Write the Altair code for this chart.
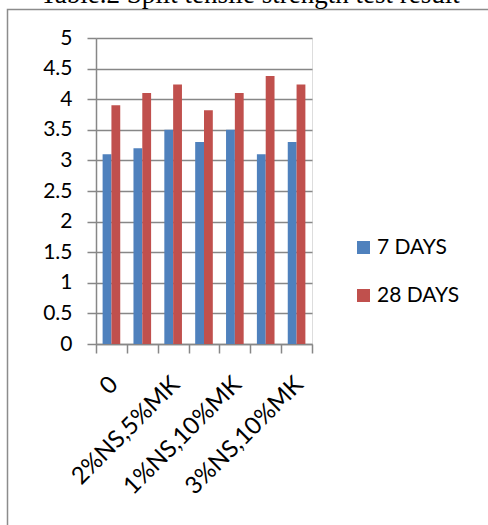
import json

import altair as alt
import pandas as pd

# Mix designs (nano-silica / metakaolin replacement levels)
mixes = [
    "0",
    "1%NS,5%MK",
    "2%NS,5%MK",
    "3%NS,5%MK",
    "1%NS,10%MK",
    "2%NS,10%MK",
    "3%NS,10%MK",
]
ages = ["7 DAYS", "28 DAYS"]
strength_7 = [3.1, 3.2, 3.5, 3.3, 3.5, 3.1, 3.3]
strength_28 = [3.9, 4.1, 4.24, 3.82, 4.1, 4.38, 4.24]
y_ticks = [0, 0.5, 1, 1.5, 2, 2.5, 3, 3.5, 4, 4.5, 5]

title_text = "Table.2  Split tensile strength test result"
colors = ["#4F81BD", "#C0504D"]
grey = "#878787"
label_font = "Lato"

rows = []
for mix, a, b in zip(mixes, strength_7, strength_28):
    rows.append({"mix": mix, "age": ages[0], "value": a})
    rows.append({"mix": mix, "age": ages[1], "value": b})
df = pd.DataFrame(rows)

# every second category label is shown, as on the original sheet
shown = json.dumps(mixes[::2])
label_expr = f"indexof({shown}, datum.value) >= 0 ? datum.label : ''"

bars = (
    alt.Chart(df)
    .mark_bar()
    .encode(
        x=alt.X(
            "mix:N",
            sort=mixes,
            scale=alt.Scale(paddingInner=0, paddingOuter=0),
            axis=alt.Axis(
                title=None,
                labelAngle=-45,
                labelExpr=label_expr,
                labelFont=label_font,
                labelFontSize=24,
                labelColor="#000000",
                labelPadding=19,
                labelOffset=-6,
                labelOverlap=False,
                tickBand="extent",
                tickSize=9,
                tickColor=grey,
                tickWidth=1.5,
                domainColor=grey,
                domainWidth=1.5,
                grid=False,
            ),
        ),
        xOffset=alt.XOffset(
            "age:N",
            sort=ages,
            scale=alt.Scale(paddingInner=0, paddingOuter=0.75),
        ),
        y=alt.Y(
            "value:Q",
            scale=alt.Scale(domain=[0, 5], nice=False),
            axis=alt.Axis(
                title=None,
                values=y_ticks,
                format=".1~f",
                labelFont=label_font,
                labelFontSize=21,
                labelColor="#000000",
                labelPadding=15,
                tickSize=9,
                tickColor=grey,
                tickWidth=1.5,
                domainColor=grey,
                domainWidth=1.5,
                gridColor=grey,
                gridWidth=1.5,
            ),
        ),
        color=alt.Color(
            "age:N",
            sort=ages,
            scale=alt.Scale(domain=ages, range=colors),
            legend=alt.Legend(
                title=None,
                orient="none",
                legendX=257,
                legendY=199,
                symbolType="square",
                symbolSize=169,
                symbolStrokeWidth=0,
                labelFont=label_font,
                labelFontSize=21,
                labelColor="#000000",
                labelOffset=3,
                rowPadding=26,
            ),
        ),
    )
)

# chart-area frame
frame = (
    alt.Chart(pd.DataFrame({"f": [0]}))
    .mark_rect(fill="transparent", stroke="#8c8c8c", strokeWidth=1.5)
    .encode(
        x=alt.value(-88.5),
        x2=alt.value(600),
        y=alt.value(-28.5),
        y2=alt.value(700),
    )
)

chart = (
    alt.layer(frame, bars)
    .properties(
        width=216,
        height=306,
        padding={"left": 96, "top": 38, "right": 176, "bottom": 181},
        autosize=alt.AutoSizeParams(type="none"),
        title=alt.TitleParams(
            text=title_text,
            font="Liberation Serif",
            fontSize=27,
            fontWeight="normal",
            color="#000000",
            anchor="middle",
            frame="group",
            baseline="alphabetic",
            dx=46,
            dy=21,
            offset=0,
        ),
    )
    .configure_view(strokeWidth=0)
    .configure(background="white")
)

chart.save("out.html", embed_options={"renderer": "svg", "actions": False})
